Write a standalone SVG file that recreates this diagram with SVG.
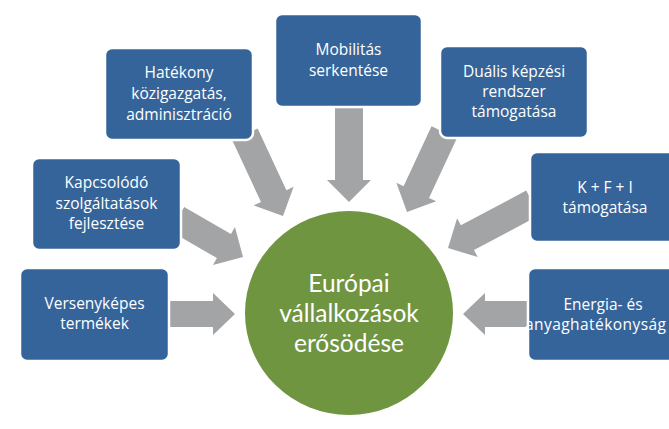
<svg xmlns="http://www.w3.org/2000/svg" width="669" height="429" viewBox="0 0 669 429">
<style>
.box{fill:#35649a;stroke:#ffffff;stroke-width:2.5}
.bt{font-family:"Open Sans","DejaVu Sans",sans-serif;font-size:15.5px;fill:#ffffff;text-anchor:middle}
.ct{font-family:Lato,"Open Sans",sans-serif;font-size:24.5px;fill:#ffffff;text-anchor:middle}
.arr{fill:#a2a4a6}
</style>
<rect width="669" height="429" fill="#ffffff"/>
<g id="connectors">
<polygon class="arr" transform="translate(349,202) rotate(90)" points="-95,-14 -22,-14 -22,-22 0,0 -22,22 -22,14 -95,14"/>
<polygon class="arr" transform="translate(283,216) rotate(65)" points="-90,-14 -22,-14 -22,-22 0,0 -22,22 -22,14 -90,14"/>
<polygon class="arr" transform="translate(407,212) rotate(115)" points="-88,-14 -22,-14 -22,-22 0,0 -22,22 -22,14 -88,14"/>
<polygon class="arr" transform="translate(448,248) rotate(152)" points="-96,-14 -22,-14 -22,-22 0,0 -22,22 -22,14 -96,14"/>
<polygon class="arr" transform="translate(243,257) rotate(30)" points="-76,-14 -22,-14 -22,-22 0,0 -22,22 -22,14 -76,14"/>
<polygon class="arr" transform="translate(235,314)" points="-66,-13 -22,-13 -22,-21 0,0 -22,21 -22,13 -66,13"/>
<polygon class="arr" transform="translate(463,314) rotate(180)" points="-66,-13 -22,-13 -22,-21 0,0 -22,21 -22,13 -66,13"/>
</g>
<g id="center">
<ellipse cx="349" cy="313" rx="104" ry="102" fill="#6f9541"/>
<text class="ct" x="349" y="292">Európai</text>
<text class="ct" x="349" y="322">vállalkozások</text>
<text class="ct" x="349" y="352">erősödése</text>
</g>
<g id="hatekony">
<rect class="box" x="105" y="48" width="148" height="92" rx="7"/>
<text class="bt" x="179" y="78">Hatékony</text>
<text class="bt" x="179" y="99">közigazgatás,</text>
<text class="bt" x="179" y="120">adminisztráció</text>
</g>
<g id="mobilitas">
<rect class="box" x="275" y="14" width="147" height="93" rx="7"/>
<text class="bt" x="348.5" y="55">Mobilitás</text>
<text class="bt" x="348.5" y="76">serkentése</text>
</g>
<g id="dualis">
<rect class="box" x="440" y="46" width="148" height="92" rx="7"/>
<text class="bt" x="514" y="77">Duális képzési</text>
<text class="bt" x="514" y="97">rendszer</text>
<text class="bt" x="514" y="117">támogatása</text>
</g>
<g id="kapcsolodo">
<rect class="box" x="32" y="158" width="149" height="92" rx="7"/>
<text class="bt" x="106.5" y="188">Kapcsolódó</text>
<text class="bt" x="106.5" y="209">szolgáltatások</text>
<text class="bt" x="106.5" y="229">fejlesztése</text>
</g>
<g id="versenykepes">
<rect class="box" x="20" y="268" width="149" height="93" rx="7"/>
<text class="bt" x="94.5" y="309">Versenyképes</text>
<text class="bt" x="94.5" y="329">termékek</text>
</g>
<g id="kfi">
<rect class="box" x="530" y="152" width="150" height="90" rx="7"/>
<text class="bt" x="605" y="193">K + F + I</text>
<text class="bt" x="605" y="213">támogatása</text>
</g>
<g id="energia">
<rect class="box" x="528" y="268" width="152" height="93" rx="7"/>
<text class="bt" x="603" y="310">Energia- és</text>
<text class="bt" x="525" y="330" style="text-anchor:start" textLength="141" lengthAdjust="spacing">anyaghatékonyság</text>
</g>
</svg>
